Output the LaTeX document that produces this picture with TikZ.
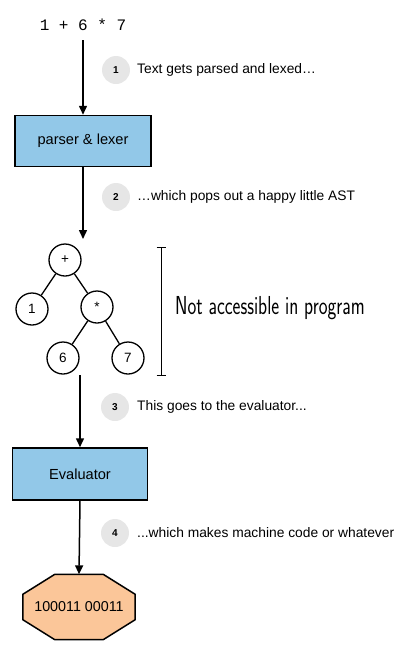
\documentclass[tikz,border=0pt]{standalone}
\usepackage{fontspec}
\setmainfont{Liberation Sans}
\setmonofont{Liberation Mono}
\usetikzlibrary{arrows.meta}
\definecolor{boxblue}{HTML}{92C8E8}
\definecolor{stepgray}{HTML}{E6E6E6}
\definecolor{peach}{HTML}{FBC699}
\tikzset{
  flow/.style={line width=1.5pt,-{Triangle[length=9pt,width=8pt]}},
  procbox/.style={draw,line width=1.5pt,fill=boxblue,minimum width=136pt,minimum height=51pt,font=\fontsize{14.6}{16}\selectfont,inner sep=0pt},
  stepnum/.style={circle,fill=stepgray,minimum size=28pt,inner sep=0pt,font=\fontsize{10}{11}\selectfont\bfseries},
  steptext/.style={anchor=west,font=\fontsize{13.8}{15}\selectfont,inner sep=0pt},
  astnode/.style={circle,draw,line width=1.3pt,minimum size=32pt,inner sep=0pt,font=\fontsize{13.5}{15}\selectfont},
  astedge/.style={line width=1.3pt},
}
\begin{document}
\begin{tikzpicture}[x=1pt,y=-1pt]
\useasboundingbox (0,0) rectangle (415,651);
% source text
\node[font=\ttfamily\fontsize{16}{18}\selectfont,inner sep=2pt] (src) at (83,25) {1 + 6 * 7};
% parser
\node[procbox] (parser) at (83,141) {parser \& lexer};
% AST
\node[astnode] (plus) at (65,260) {+};
\node[astnode] (one) at (32,309) {1};
\node[astnode] (star) at (97,307) {*};
\node[astnode] (six) at (63,358) {6};
\node[astnode] (seven) at (128,358) {7};
\draw[astedge] (plus) -- (one);
\draw[astedge] (plus) -- (star);
\draw[astedge] (star) -- (six);
\draw[astedge] (star) -- (seven);
% evaluator
\node[procbox,minimum width=135pt,minimum height=52pt] (eval) at (80,474) {Evaluator};
% output octagon
\node[inner sep=0pt,minimum width=112pt,minimum height=65pt] (out) at (79,607) {};
\draw[line width=1.5pt,fill=peach]
  ([xshift=32pt]out.north west) -- ([xshift=-32pt]out.north east)
  -- ([yshift=-20pt]out.north east) -- ([yshift=20pt]out.south east)
  -- ([xshift=-32pt]out.south east) -- ([xshift=32pt]out.south west)
  -- ([yshift=20pt]out.south west) -- ([yshift=-20pt]out.north west) -- cycle;
\node[inner sep=0pt,font=\fontsize{14.3}{16}\selectfont] (outtext) at (out.center) {100011 00011};
% connectors
\coordinate (astin) at (83,239);
\coordinate (astout) at (80,375);
\draw[flow] (src.south |- 0,40) -- (parser.north);
\draw[flow] (parser.south) -- (astin);
\draw[flow] (astout) -- (eval.north);
\draw[flow] (eval.south) -- (out.north);
% steps
\node[stepnum] (s1) at (116,70) {1};
\node[steptext] (t1) at (137,70) {Text gets parsed and lexed…};
\node[stepnum] (s2) at (116,197) {2};
\node[steptext] (t2) at (137,197) {…which pops out a happy little AST};
\node[stepnum] (s3) at (115,407) {3};
\node[steptext] (t3) at (137,407) {This goes to the evaluator...};
\node[stepnum] (s4) at (115,533) {4};
\node[steptext] (t4) at (137,533) {...which makes machine code or whatever};
% bracket
\coordinate (bt) at (161,247);
\coordinate (bb) at (161,375);
\draw[line width=1pt] (bt) -- (bb);
\draw[line width=1pt] ([xshift=-4.5pt]bt) -- ([xshift=4.5pt]bt);
\draw[line width=1pt] ([xshift=-4.5pt]bb) -- ([xshift=4.5pt]bb);
\node[anchor=west,inner sep=0pt,font=\sffamily\fontsize{26}{28}\selectfont] (note) at (175,308) {\scalebox{0.72}[1]{Not accessible in program}};
\end{tikzpicture}
\end{document}
